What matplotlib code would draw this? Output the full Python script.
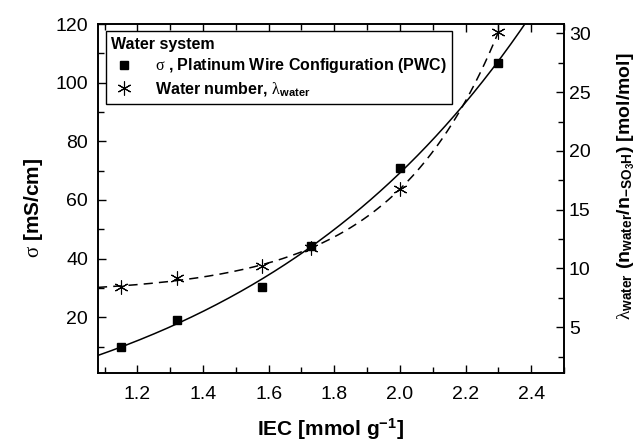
import numpy as np
import matplotlib
matplotlib.use('Agg')
from matplotlib import pyplot as plt
from matplotlib.ticker import MultipleLocator
from matplotlib.lines import Line2D

plt.rcParams['font.family'] = ['Liberation Sans', 'DejaVu Sans']
plt.rcParams['mathtext.fontset'] = 'custom'
plt.rcParams['mathtext.rm'] = 'Liberation Serif'
plt.rcParams['mathtext.it'] = 'Liberation Serif:italic'
plt.rcParams['mathtext.bf'] = 'Liberation Sans:bold'
plt.rcParams['mathtext.sf'] = 'Liberation Sans'

# IEC of the membranes [mmol/g]
iec = [1.15, 1.32, 1.58, 1.73, 2.00, 2.30]
# proton conductivity, platinum wire configuration [mS/cm]
sigma = [10.0, 19.0, 30.3, 44.3, 71.0, 106.8]
# water number lambda [mol/mol]
lam = [8.4, 9.2, 10.2, 11.7, 16.8, 30.1]


def exp_fit(x, y, x_new):
    # y = y0 + A*exp(b*x), scan b and solve y0, A by least squares
    x = np.asarray(x); y = np.asarray(y)
    best = None
    for b in np.linspace(0.2, 12, 3000):
        M = np.column_stack([np.ones_like(x), np.exp(b * x)])
        coef = np.linalg.lstsq(M, y, rcond=None)[0]
        err = ((M @ coef - y) ** 2).sum()
        if best is None or err < best[0]:
            best = (err, b, coef)
    err, b, coef = best
    return coef[0] + coef[1] * np.exp(b * x_new)


xs = np.linspace(1.08, 2.5, 300)
sig_fit = exp_fit(iec, sigma, xs)
lam_fit = exp_fit(iec, lam, xs)

fig = plt.figure(figsize=(6.42, 4.42), dpi=100)
ax = fig.add_axes([0.1526, 0.1561, 0.7259, 0.7896])
ax2 = ax.twinx()

ax.plot(xs, sig_fit, color='black', lw=1.1)
ax.plot(iec, sigma, 's', color='black', ms=6, clip_on=False)
ax2.plot(xs, lam_fit, color='black', lw=1.1, dashes=(6, 4))
ax2.plot(iec, lam, marker=(6, 2, 0), ls='none', color='black', ms=10, mew=0.8, clip_on=False)

ax.set_xlim(1.08, 2.5)
ax.set_ylim(1, 120)
ax2.set_ylim(1.1, 30.8)

ax.xaxis.set_major_locator(MultipleLocator(0.2))
ax.xaxis.set_minor_locator(MultipleLocator(0.1))
ax.yaxis.set_major_locator(MultipleLocator(20))
ax.yaxis.set_minor_locator(MultipleLocator(10))
ax2.yaxis.set_major_locator(MultipleLocator(5))
ax2.yaxis.set_minor_locator(MultipleLocator(2.5))

for a in (ax, ax2):
    a.tick_params(which='both', direction='in', labelsize=14, width=1)
    a.tick_params(which='major', length=6)
    a.tick_params(which='minor', length=4)
    for s in a.spines.values():
        s.set_linewidth(1.2)
ax.tick_params(which='both', top=True)
ax.tick_params(axis='x', pad=9)
ax.tick_params(axis='y', pad=7)

ax.set_xlabel(r'IEC [mmol g$^{\mathbf{-1}}$]', fontsize=15, fontweight='bold', labelpad=10)
ax.set_ylabel(r'$\mathrm{\sigma}$ [mS/cm]', fontsize=15, fontweight='bold')
ax2.set_ylabel(r'$\mathrm{\lambda}_{\mathbf{water}}$ (n$_{\mathbf{water}}$/n$_{\mathbf{-SO_3H}}$) [mol/mol]',
               fontsize=14, fontweight='bold')
# centre both y labels on their coordinates
for lab in (ax.yaxis.label, ax2.yaxis.label):
    lab.set_horizontalalignment('center')
    lab.set_verticalalignment('center')
ax.yaxis.set_label_coords(-0.139, 0.473)
ax2.yaxis.set_label_coords(1.133, 0.535)

handles = [
    Line2D([], [], marker='s', ls='none', color='black', ms=6),
    Line2D([], [], marker=(6, 2, 0), ls='none', color='black', ms=10, mew=0.8),
]
labels = [r'$\mathrm{\sigma}$ , Platinum Wire Configuration (PWC)',
          r'Water number, $\mathrm{\lambda}_{\mathbf{water}}$']
leg = ax.legend(handles, labels, title='Water system', loc='upper left',
                bbox_to_anchor=(0.017, 0.98), borderaxespad=0, fancybox=False,
                edgecolor='black', framealpha=1, alignment='left',
                prop={'weight': 'bold', 'size': 11.5},
                title_fontproperties={'weight': 'bold', 'size': 11.5},
                handletextpad=1.1, labelspacing=0.3, borderpad=0.35, handlelength=1.6)
leg.get_frame().set_linewidth(1.0)
leg.set_zorder(5)

fig.savefig('out.png', dpi=100)
